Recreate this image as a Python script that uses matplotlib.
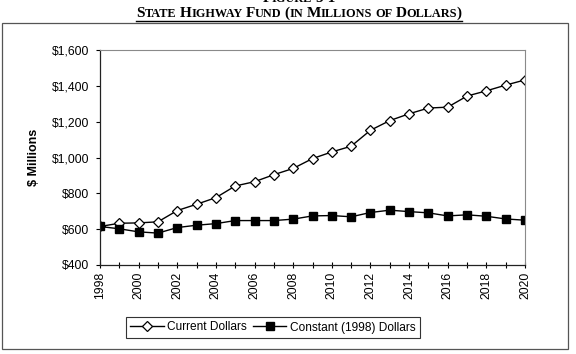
import matplotlib
matplotlib.use('Agg')
import matplotlib.pyplot as plt
from matplotlib.lines import Line2D
from matplotlib.patches import Rectangle
from matplotlib.ticker import FuncFormatter, MultipleLocator

# values, $ millions
years = list(range(1998, 2021))
current = [615, 633, 635, 641, 704, 739, 776, 841, 865, 904, 939, 994,
           1031, 1063, 1152, 1206, 1244, 1276, 1281, 1343, 1372, 1404, 1433]
constant = [615, 602, 585, 578, 609, 622, 631, 648, 648, 648, 656, 674,
            676, 669, 693, 706, 698, 691, 674, 680, 672, 657, 650]
series_names = ['Current Dollars', 'Constant (1998) Dollars']
y_label = '$ Millions'

# small caps title pieces: (text, big letter?)
fig_label = [('F', True), ('IGURE', False), (' ', False), ('5-1', True)]
title = [('S', True), ('TATE', False), (' ', False), ('H', True), ('IGHWAY', False),
         (' ', False), ('F', True), ('UND', False), (' ', False), ('(', True),
         ('IN', False), (' ', False), ('M', True), ('ILLIONS', False), (' ', False),
         ('OF', False), (' ', False), ('D', True), ('OLLARS', False), (')', True)]

W, H = 576, 354
fig = plt.figure(figsize=(W / 100, H / 100), dpi=100)


def px(x, y):
    return x / W, 1 - y / H


plt.rcParams['font.family'] = ['Liberation Sans', 'DejaVu Sans']

ax = fig.add_axes([100 / W, 1 - 265 / H, 425 / W, 215 / H])
ax.plot(years, current, '-', color='black', lw=1, marker='D', ms=4.6,
        mfc='white', mec='black', mew=0.9, label=series_names[0])
ax.plot(years, constant, '-', color='black', lw=1, marker='s', ms=5.3,
        mfc='black', mec='black', label=series_names[1])

ax.set_xlim(1998, 2020)
ax.set_ylim(400, 1600)
ax.xaxis.set_major_locator(MultipleLocator(2))
ax.xaxis.set_minor_locator(MultipleLocator(1))
ax.yaxis.set_major_locator(MultipleLocator(200))
ax.yaxis.set_major_formatter(FuncFormatter(lambda v, p: '${:,.0f}'.format(v)))
ax.tick_params(axis='x', which='both', direction='inout', length=4, width=0.8,
               labelsize=8.7, pad=3, labelrotation=90)
ax.tick_params(axis='y', direction='out', length=3, width=0.8, labelsize=8.7, pad=5)
ax.set_ylabel(y_label, fontsize=9, fontweight='bold', labelpad=8)

for s in ['left', 'bottom']:
    ax.spines[s].set_color('#222222')
    ax.spines[s].set_linewidth(0.9)
for s in ['top', 'right']:
    ax.spines[s].set_color('#8a8a8a')
    ax.spines[s].set_linewidth(0.8)

leg = fig.legend(loc='center', bbox_to_anchor=px(273, 327.5), ncol=2,
                 fontsize=8.6, handlelength=2.8, handletextpad=0.3,
                 columnspacing=0.5, borderpad=0.4, fancybox=False,
                 framealpha=1, edgecolor='#333333')
leg.get_frame().set_linewidth(0.8)

# outer frame
fig.add_artist(Rectangle(px(2, 349), 566 / W, 326 / H, transform=fig.transFigure,
                         fill=False, ec='#555555', lw=0.9))


def small_caps(parts, base_y, center_x, big=11, small=8.8):
    fig.canvas.draw()
    r = fig.canvas.get_renderer()
    probe = fig.text(0, 0, 'xx', fontsize=small, family='Liberation Serif', weight='bold')
    w2 = probe.get_window_extent(r).width
    probe.set_text('x x')
    sp = probe.get_window_extent(r).width - w2
    probe.remove()
    items = []
    x = 0
    for s, is_big in parts:
        if s == ' ':
            x += sp
            continue
        t = fig.text(0, 0, s, fontsize=big if is_big else small,
                     family='Liberation Serif', weight='bold', va='baseline')
        items.append((t, x))
        x += t.get_window_extent(r).width
    x0 = center_x - x / 2
    for t, off in items:
        t.set_position(px(x0 + off, base_y))
    return x0, x0 + x


small_caps(fig_label, 2.5, 299)
x0, x1 = small_caps(title, 17.3, 299)
fig.add_artist(Line2D([x0 / W, x1 / W], [1 - 20.7 / H] * 2, transform=fig.transFigure,
                      color='black', lw=1))

fig.savefig('out.png', dpi=100)
